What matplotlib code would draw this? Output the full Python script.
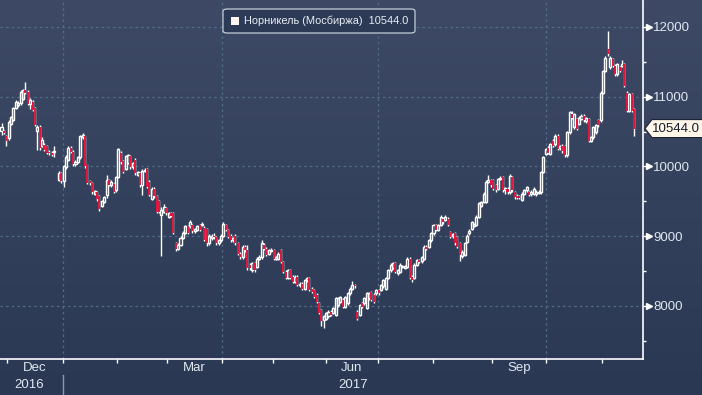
import numpy as np
import matplotlib.pyplot as plt
import matplotlib.transforms as mtransforms
from matplotlib.collections import LineCollection
from matplotlib.patches import Rectangle, Polygon, FancyBboxPatch

plt.rcParams['font.family'] = ['Liberation Sans', 'DejaVu Sans']

# daily OHLC, Nornickel on MOEX (None = no trading)
opens = [
    10510, 10510, 10430, 10410, 10610, 10670, 10840, 10880, 10910, 10970,
    11100, 11070, 10900, 10930, 10840, 10510, 10570, 10300, 10310, 10290,
    10210, 10200, 10210, None, 9810, 9910, 9790, 9990, 10100, 10270,
    10210, 10030, 10070, 10130, 10420, 10430, 10030, 9790, 9770, 9610,
    9630, 9570, 9440, 9490, 9590, 9800, 9730, 9750, 9660, 9850,
    10200, 10080, 9970, 10050, 10150, 9990, 10100, 9880, 9900, 9730,
    9940, 9960, 9780, 9540, 9680, 9570, 9500, 9310, 9350, 9400,
    9280, 9330, 9330, 8900, 8820, 8880, 8980, 9050, 9140, 9140,
    9160, 9070, 9090, 9160, 9160, 9120, 9100, 8900, 8970, 9010,
    8990, 8900, 8940, 9010, 9160, 9090, 9010, 8940, 9010, 8900,
    8750, 8700, 8850, 8800, 8590, 8510, 8610, 8560, 8680, 8700,
    8880, 8820, 8750, 8790, 8800, 8680, 8680, 8800, 8630, 8490,
    8400, 8510, 8420, 8350, 8420, 8300, 8320, 8250, 8370, 8400,
    8250, 8230, 8160, 8040, 7940, 7800, 7820, 7850, 7920, 7900,
    7870, 8010, 8060, 8090, 7990, 8040, 8180, 8250, 8300, 7920,
    7870, 8040, 8040, 7970, 8110, 8200, 8160, 8180, 8230, 8230,
    8280, 8250, 8400, 8510, 8550, 8610, 8470, 8490, 8560, 8550,
    8560, 8680, 8420, 8400, 8590, 8660, 8640, 8680, 8850, 8850,
    8940, 9040, 9160, 9090, 9160, 9250, 9240,
    9250, 9060, 9000, 9040, 8990, 8900, 8710,
    8730, 8920, 9040,
    9110, 9150, 9160, 9280, 9440, 9490, 9490, 9780, 9800, 9800,
    9730, 9680, 9820, 9850, 9660, 9680, 9630, 9850, 9630, 9580,
    9570, 9520, 9610, 9660, 9630, 9600, 9610, 9600, 9620, 9630,
    9920, 10180, 10270, 10180, 10370, 10320, 10440, 10260, 10290, 10290,
    10160, 10490, 10750, 10560, 10680, 10610, 10680, 10730, 10650, 10680,
    10370, 10420, 10490, 10660, 10660, 11060, 11370, 11680, 11420, 11540,
    11440, 11320, 11420, 11440, 11470, 11060, 10800, 11040, 10820,
]
highs = [
    10620, 10530, 10450, 10660, 10730, 10850, 10950, 10940, 11090, 11110,
    11210, 11090, 10980, 10960, 10860, 10590, 10590, 10420, 10330, 10310,
    10240, 10220, 10290, None, 9930, 9920, 10020, 10160, 10300, 10290,
    10230, 10090, 10150, 10450, 10480, 10440, 10040, 9800, 9780, 9670,
    9650, 9590, 9520, 9580, 9880, 9820, 9800, 9770, 9870, 10270,
    10220, 10100, 10170, 10180, 10170, 10070, 10120, 9940, 9920, 9960,
    9980, 9980, 9800, 9700, 9700, 9590, 9520, 9420, 9460, 9420,
    9350, 9350, 9350, 8920, 8900, 9000, 9070, 9160, 9160, 9230,
    9180, 9120, 9160, 9180, 9200, 9140, 9120, 9030, 9030, 9040,
    9010, 8960, 9030, 9200, 9180, 9110, 9030, 8990, 9030, 8920,
    8780, 8870, 8880, 8870, 8610, 8630, 8630, 8700, 8730, 8950,
    8900, 8840, 8820, 8830, 8820, 8720, 8770, 8820, 8650, 8510,
    8530, 8530, 8440, 8440, 8440, 8340, 8340, 8390, 8420, 8420,
    8270, 8250, 8180, 8060, 7960, 7870, 7920, 7940, 7940, 7990,
    8130, 8130, 8150, 8110, 8150, 8200, 8270, 8360, 8320, 7940,
    8030, 8060, 8130, 8200, 8200, 8220, 8180, 8250, 8250, 8320,
    8390, 8420, 8530, 8610, 8630, 8630, 8530, 8610, 8590, 8590,
    8700, 8700, 8440, 8610, 8680, 8680, 8720, 8870, 8870, 8960,
    9060, 9180, 9180, 9180, 9300, 9270, 9300,
    9270, 9080, 9050, 9060, 9010, 8920, 8800,
    8920, 9030, 9100,
    9220, 9190, 9300, 9490, 9510, 9630, 9800, 9880, 9820, 9820,
    9750, 9840, 9860, 9870, 9710, 9700, 9890, 9870, 9650, 9600,
    9590, 9630, 9680, 9720, 9650, 9660, 9700, 9660, 9660, 9940,
    10150, 10270, 10290, 10340, 10390, 10460, 10460, 10310, 10320, 10310,
    10510, 10800, 10790, 10770, 10700, 10720, 10750, 10750, 10710, 10700,
    10440, 10580, 10610, 10680, 11080, 11390, 11580, 11940, 11580, 11560,
    11470, 11490, 11440, 11520, 11490, 11080, 11060, 11060, 10840,
]
lows = [
    10450, 10460, 10300, 10380, 10590, 10650, 10820, 10860, 10880, 10950,
    11040, 10880, 10820, 10790, 10580, 10240, 10240, 10280, 10220, 10180,
    10170, 10150, 10130, None, 9790, 9770, 9700, 9970, 10080, 10190,
    10010, 10010, 10050, 10110, 10400, 9980, 9750, 9740, 9610, 9590,
    9510, 9360, 9420, 9470, 9550, 9720, 9700, 9620, 9640, 9830,
    10040, 9900, 9950, 10030, 9970, 9970, 9880, 9860, 9710, 9590,
    9920, 9690, 9570, 9520, 9550, 9330, 9330, 8720, 9330, 9310,
    9260, 9270, 9030, 8790, 8800, 8860, 8960, 9030, 9030, 9120,
    9050, 9050, 9070, 9070, 9140, 8930, 8860, 8880, 8950, 8960,
    8880, 8880, 8920, 8990, 9070, 8970, 8920, 8920, 8880, 8730,
    8680, 8680, 8780, 8520, 8520, 8490, 8490, 8540, 8660, 8680,
    8800, 8710, 8730, 8770, 8660, 8660, 8660, 8610, 8470, 8380,
    8380, 8380, 8330, 8330, 8280, 8270, 8230, 8230, 8350, 8210,
    8180, 8110, 8040, 7880, 7720, 7690, 7800, 7830, 7850, 7880,
    7850, 7990, 8040, 7970, 7970, 8020, 8160, 8230, 8260, 7800,
    7850, 7970, 8020, 7950, 8090, 8070, 8040, 8160, 8160, 8210,
    8260, 8230, 8380, 8490, 8530, 8470, 8450, 8470, 8540, 8530,
    8540, 8380, 8350, 8380, 8570, 8610, 8620, 8660, 8800, 8830,
    8920, 9020, 9070, 9070, 9140, 9180, 9220,
    9140, 8970, 8980, 8880, 8830, 8650, 8690,
    8710, 8900, 9020,
    9090, 9130, 9140, 9260, 9420, 9470, 9470, 9760, 9710, 9660,
    9640, 9660, 9800, 9640, 9610, 9610, 9610, 9640, 9540, 9530,
    9530, 9500, 9590, 9640, 9570, 9580, 9590, 9580, 9600, 9610,
    9900, 10160, 10180, 10160, 10280, 10300, 10230, 10240, 10200, 10140,
    10140, 10470, 10680, 10540, 10520, 10590, 10660, 10640, 10630, 10350,
    10350, 10400, 10470, 10570, 10640, 11040, 11350, 11580, 11400, 11420,
    11300, 11300, 11350, 11420, 11140, 10780, 10780, 10780, 10430,
]
closes = [
    10570, 10480, 10370, 10640, 10710, 10840, 10930, 10910, 11070, 11090,
    11060, 10900, 10950, 10810, 10600, 10570, 10260, 10380, 10240, 10200,
    10190, 10170, 10215, None, 9910, 9790, 10000, 10140, 10270, 10210,
    10030, 10070, 10130, 10430, 10450, 10000, 9770, 9770, 9630, 9650,
    9530, 9390, 9500, 9560, 9800, 9740, 9780, 9640, 9850, 10250,
    10060, 9920, 10150, 10160, 9990, 10050, 9900, 9920, 9730, 9940,
    9950, 9710, 9590, 9680, 9570, 9350, 9350, 9380, 9420, 9330,
    9330, 9290, 9050, 8810, 8880, 8980, 9050, 9140, 9050, 9210,
    9070, 9100, 9140, 9090, 9170, 8950, 8900, 9010, 9010, 8990,
    8900, 8940, 9010, 9180, 9090, 8990, 8940, 8970, 8900, 8750,
    8700, 8850, 8800, 8540, 8540, 8610, 8510, 8680, 8700, 8900,
    8820, 8730, 8800, 8800, 8680, 8700, 8750, 8630, 8490, 8400,
    8510, 8400, 8350, 8420, 8300, 8320, 8250, 8370, 8400, 8230,
    8200, 8130, 8060, 7900, 7780, 7850, 7900, 7920, 7870, 7970,
    8110, 8110, 8130, 7990, 8130, 8180, 8250, 8300, 8280, 7820,
    8010, 7990, 8110, 8180, 8180, 8090, 8060, 8230, 8180, 8300,
    8370, 8400, 8510, 8590, 8610, 8490, 8510, 8590, 8570, 8570,
    8680, 8400, 8370, 8590, 8660, 8630, 8700, 8850, 8820, 8940,
    9040, 9160, 9090, 9160, 9280, 9200, 9280,
    9160, 8990, 9030, 8900, 8850, 8730, 8780,
    8900, 9010, 9080,
    9200, 9170, 9280, 9470, 9490, 9610, 9780, 9800, 9730, 9680,
    9660, 9820, 9840, 9660, 9690, 9630, 9870, 9660, 9560, 9550,
    9550, 9610, 9660, 9700, 9590, 9640, 9680, 9640, 9640, 9920,
    10130, 10250, 10200, 10320, 10300, 10440, 10250, 10290, 10220, 10160,
    10490, 10780, 10700, 10750, 10540, 10700, 10730, 10660, 10690, 10370,
    10420, 10560, 10590, 10590, 11060, 11370, 11560, 11610, 11560, 11440,
    11320, 11470, 11370, 11470, 11160, 10800, 11040, 10800, 10544,
]

series_name = 'Норникель (Мосбиржа)'
last_price = 10544.0
y_ticks = [8000, 9000, 10000, 11000, 12000]
y_minor = [7500, 8500, 9500, 10500, 11500]
month_labels = ['Dec', 'Mar', 'Jun', 'Sep']
year_labels = ['2016', '2017']

# layout (pixels of the 702x395 picture)
W, H = 702, 395
ax_right, ax_bottom = 643, 359
month_px = [7, 63, 117, 167, 222, 273, 326, 378, 433, 492, 546, 602]
quarter_px = [63, 222, 378, 546]
label_month = [0, 3, 6, 9]
year_px = [29, 353]

text_c = '#dfe7f0'
grid_c = '#4f6d86'
red = '#e0173f'

fig = plt.figure(figsize=(W / 100, H / 100), dpi=100)

# vertical gradient background
bg = fig.add_axes([0, 0, 1, 1])
top = np.array([62, 74, 101]) / 255
bot = np.array([42, 56, 84]) / 255
t = np.linspace(0, 1, 300)[:, None]
grad = top * (1 - t) + bot * t
bg.imshow(grad[:, None, :], aspect='auto', extent=[0, 1, 0, 1])
bg.axis('off')

ax = fig.add_axes([0, (H - ax_bottom) / H, ax_right / W, ax_bottom / H])
ax.set_facecolor('none')

n = len(closes)
step = 632.5 / (n - 1)


def px2x(p):
    return (p - 1.5) / step


ax.set_xlim(px2x(0), px2x(ax_right))
ax.set_ylim(7240, 12387)

# candles
bw = 0.85
segs = []
for i in range(n):
    o, h, l, c = opens[i], highs[i], lows[i], closes[i]
    if o is None:
        continue
    top_b, bot_b = max(o, c), min(o, c)
    if c >= o:
        segs.append([(i, h), (i, top_b)])
        segs.append([(i, bot_b), (i, l)])
        ax.add_patch(Rectangle((i - bw / 2, bot_b), bw, max(top_b - bot_b, 8),
                               facecolor='none', edgecolor='white', lw=1.0, zorder=4))
    else:
        segs.append([(i, h), (i, l)])
        ax.add_patch(Rectangle((i - bw / 2, bot_b), bw, max(top_b - bot_b, 8),
                               facecolor=red, edgecolor='none', zorder=5))
ax.add_collection(LineCollection(segs, colors='white', linewidths=1.0, zorder=3))

# grid
for y in y_ticks:
    ax.axhline(y, color=grid_c, lw=0.9, ls=(0, (2, 2.5)), zorder=1)
for p in quarter_px:
    ax.axvline(px2x(p), color=grid_c, lw=0.9, ls=(0, (2, 2.5)), zorder=1)

for k in ['top', 'left']:
    ax.spines[k].set_visible(False)
for k in ['right', 'bottom']:
    ax.spines[k].set_color('white')
    ax.spines[k].set_linewidth(1.2)

ax.set_xticks([px2x(p) for p in month_px])
ax.tick_params(axis='x', direction='out', length=3, width=1, color='white',
               labelbottom=False)

ax.yaxis.tick_right()
ax.set_yticks(y_ticks)
ax.set_yticks(y_minor, minor=True)
ax.set_yticklabels([str(v) for v in y_ticks])
ax.tick_params(axis='y', which='major', length=2.5, width=1, color='white',
               labelcolor=text_c, labelsize=9.5, pad=5)
ax.tick_params(axis='y', which='minor', length=2.5, width=1, color='white')
trans = mtransforms.blended_transform_factory(ax.transAxes, ax.transData)
ax.plot([648.5 / ax_right] * len(y_ticks), y_ticks, ls='', marker='>', ms=4.5,
        color='white', transform=trans, clip_on=False, zorder=6)

# month / year labels
for lab, k in zip(month_labels, label_month):
    xm = (month_px[k] + month_px[k + 1]) / 2
    fig.text(xm / W, 1 - 368 / H, lab, ha='center', va='center',
             color=text_c, fontsize=9.5)
for lab, xp in zip(year_labels, year_px):
    fig.text(xp / W, 1 - 385 / H, lab, ha='center', va='center',
             color=text_c, fontsize=9.5)
fig.add_artist(plt.Line2D([63 / W, 63 / W], [0, 20 / H], color='#8d99ab', lw=1))

# last price tag
yp = 1 - (27 + (12000 - last_price) * 279 / 4000) / H
hh = 9 / H
tag = Polygon([(645 / W, yp), (652 / W, yp + hh), (703 / W, yp + hh),
               (703 / W, yp - hh), (652 / W, yp - hh)], closed=True,
              transform=fig.transFigure, facecolor='#fff6ea', edgecolor='#1b2233',
              lw=0.8, zorder=10)
fig.add_artist(tag)
fig.text(676 / W, yp, f'{last_price:.1f}', ha='center', va='center',
         color='#141b2b', fontsize=9.5, zorder=11)

# legend box
box = FancyBboxPatch((223 / W, 1 - 33 / H), 192 / W, 24 / H,
                     boxstyle='round,pad=0,rounding_size=0.006',
                     transform=fig.transFigure, facecolor='#2d3a55',
                     edgecolor='#c3ccd8', lw=0.9, zorder=10)
fig.add_artist(box)
fig.add_artist(Rectangle((231 / W, 1 - 25 / H), 8 / W, 8 / H, transform=fig.transFigure,
                         facecolor='#fff6f0', edgecolor='none', zorder=11))
fig.text(244 / W, 1 - 21 / H, f'{series_name}  {last_price:.1f}', ha='left', va='center',
         color='#e8eef5', fontsize=7.9, zorder=11)

fig.savefig('out.png', dpi=100)
